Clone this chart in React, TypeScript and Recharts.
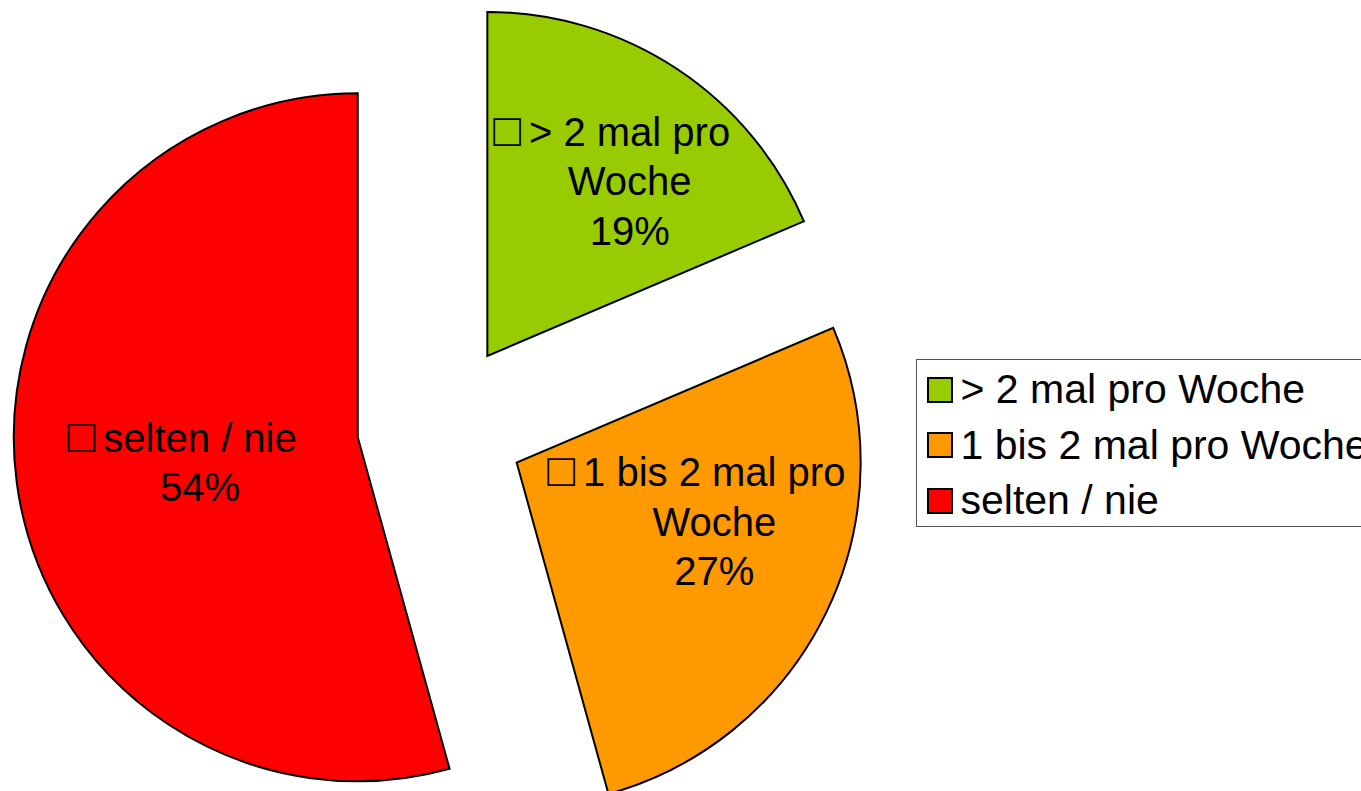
import { PieChart, Pie, Cell, Legend } from 'recharts'

const categories = ['> 2 mal pro Woche', '1 bis 2 mal pro Woche', 'selten / nie']
const shares = [18.6, 27.1, 54.3]
const colors = ['#99cc00', '#ff9900', '#ff0000']

// where the label sits inside its slice: share of the radius, turn from mid angle (deg)
const labelRadius = [0.655, 0.6, 0.464]
const labelTurn = [5.7, -9, -1.3]

const FONT = "'Liberation Sans', Arial, sans-serif"
const CX = 441
const CY = 426
const R = 344
const EXPLODE = 84
const LINE = 49.5
const RAD = Math.PI / 180

const data = categories.map((name, i) => ({ name, value: shares[i] }))
const total = shares.reduce((a, b) => a + b, 0)

function midAngle(i: number) {
  const before = shares.slice(0, i).reduce((a, b) => a + b, 0)
  return 90 - (360 * (before + shares[i] / 2)) / total
}

function wrap(text: string, max: number) {
  const lines: string[] = []
  let cur = ''
  for (const w of text.split(' ')) {
    const next = cur ? cur + ' ' + w : w
    if (next.length > max && cur) {
      lines.push(cur)
      cur = w
    } else cur = next
  }
  if (cur) lines.push(cur)
  return lines
}

function sliceLabel(slice: number) {
  return (props: any) => {
    if (props.index !== slice) return null
    const a = (props.midAngle - labelTurn[slice]) * RAD
    const r = props.outerRadius * labelRadius[slice]
    const x = props.cx + r * Math.cos(a)
    const y = props.cy - r * Math.sin(a)
    // first line carries the little box in front, wrap as if it were one char
    const lines = wrap('#' + props.name, 16)
    lines[0] = lines[0].slice(1)
    lines.push(`${Math.round(props.percent * 100)}%`)
    const y0 = y - ((lines.length - 1) / 2) * LINE + 14
    return (
      <text textAnchor="middle" fontFamily={FONT} fontSize={40} fill="#000">
        {lines.map((l, k) =>
          k === 0 ? (
            <tspan key={k}>
              <tspan x={x - 18} y={y0} fontSize={46}>
                {'\u25a1'}
              </tspan>
              <tspan dx={8}>{l}</tspan>
            </tspan>
          ) : (
            <tspan key={k} x={x} y={y0 + k * LINE}>
              {l}
            </tspan>
          )
        )}
      </text>
    )
  }
}

function LegendBox() {
  return (
    <div
      style={{
        width: 470,
        height: 168,
        boxSizing: 'border-box',
        border: '1.5px solid #555',
        background: '#fff',
        fontFamily: FONT,
        fontSize: 41,
        color: '#000',
        paddingLeft: 9.5,
        paddingTop: 2,
        overflow: 'hidden',
      }}
    >
      {categories.map((c, i) => (
        <div key={c} style={{ display: 'flex', alignItems: 'center', height: 55.5, whiteSpace: 'nowrap' }}>
          <span
            style={{
              display: 'inline-block',
              width: 26,
              height: 26,
              boxSizing: 'border-box',
              border: '2px solid #000',
              background: colors[i],
              marginRight: 8,
              flexShrink: 0,
            }}
          />
          {c}
        </div>
      ))}
    </div>
  )
}

export default function App() {
  return (
    <div style={{ position: 'absolute', left: 0, top: 0, width: 1361, height: 791, overflow: 'hidden', background: '#fff' }}>
      <PieChart width={1361} height={791} margin={{ top: 0, right: 0, bottom: 0, left: 0 }}>
        {categories.map((_, i) => {
          const m = midAngle(i) * RAD
          return (
            <Pie
              key={i}
              data={data}
              dataKey="value"
              nameKey="name"
              cx={CX + EXPLODE * Math.cos(m)}
              cy={CY - EXPLODE * Math.sin(m)}
              outerRadius={R}
              startAngle={90}
              endAngle={-270}
              isAnimationActive={false}
              labelLine={false}
              label={sliceLabel(i)}
            >
              {data.map((_, k) => (
                <Cell
                  key={k}
                  fill={k === i ? colors[k] : 'none'}
                  stroke={k === i ? '#000' : 'none'}
                  strokeWidth={2}
                />
              ))}
            </Pie>
          )
        })}
        <Legend
          layout="vertical"
          align="right"
          verticalAlign="top"
          content={() => <LegendBox />}
          wrapperStyle={{ left: 916, top: 359, right: 'auto', width: 470 }}
        />
      </PieChart>
    </div>
  )
}
